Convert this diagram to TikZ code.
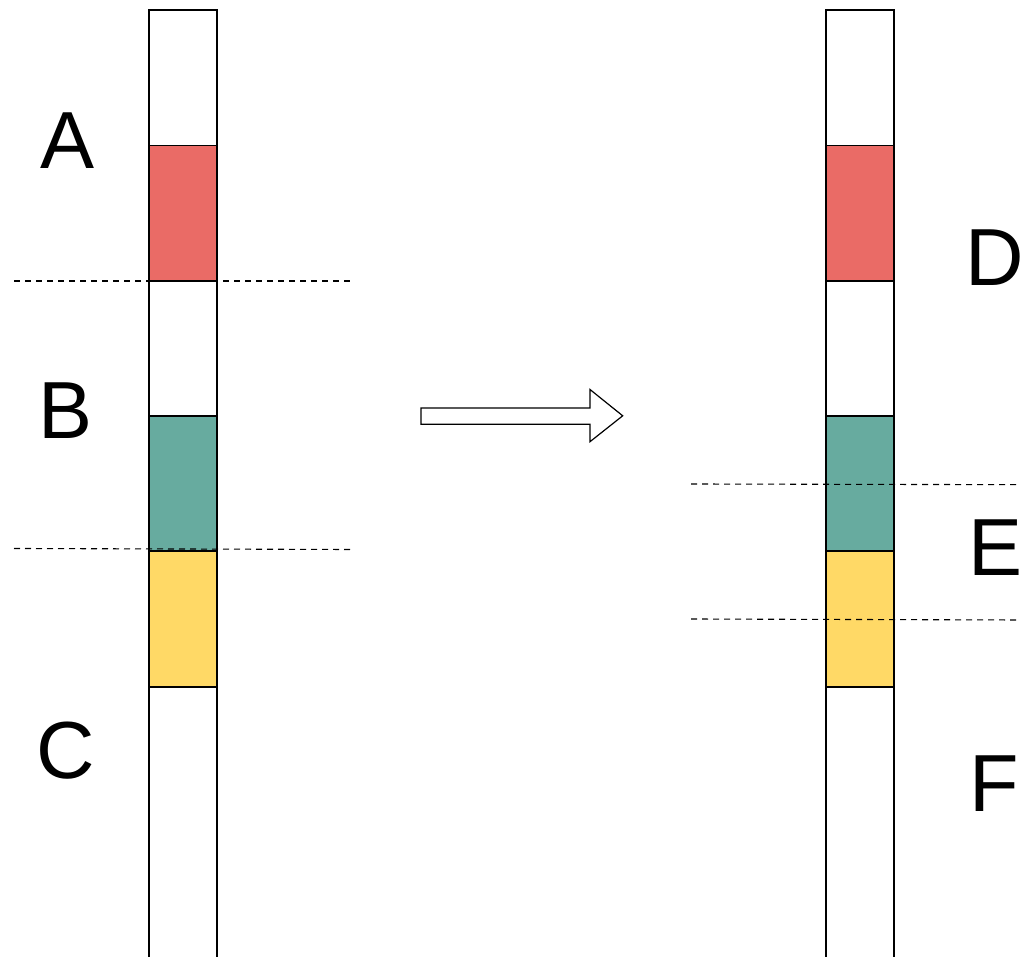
\documentclass[tikz,border=0pt]{standalone}
\usepackage{fontspec}
\setmainfont{Liberation Sans}
\definecolor{cred}{HTML}{EA6B66}
\definecolor{cgreen}{HTML}{67AB9F}
\definecolor{cyellow}{HTML}{FFD966}
\begin{document}
\begin{tikzpicture}[x=1pt,y=-1pt,
  seg/.style={draw=black,line width=1.2pt},
  cut/.style={draw=black,line width=1.1pt,dash pattern=on 6pt off 5pt},
  lbl/.style={inner sep=0pt,anchor=base west,font=\fontsize{81}{81}\selectfont},
  blockarrow/.style={draw=black,fill=white,line width=1.2pt,line join=miter}]
\useasboundingbox (0,0) rectangle (1021,957);
% left column
\foreach \xl/\xr in {149/217,826/894}{
  \path[seg,fill=white]   (\xl,10)    rectangle (\xr,145.5);
  \path[seg,fill=cred]    (\xl,145.5) rectangle (\xr,281);
  \path[seg,fill=white]   (\xl,281)   rectangle (\xr,416);
  \path[seg,fill=cgreen]  (\xl,416)   rectangle (\xr,551);
  \path[seg,fill=cyellow] (\xl,551)   rectangle (\xr,687);
  \path[seg,fill=white]   (\xl,687)   rectangle (\xr,960);
}
% cut lines
\draw[cut] (14,281) -- (352,281);
\draw[cut] (14,548.5) -- (352,549.5);
\draw[cut] (691,484) -- (1021,484.7);
\draw[cut] (691,619) -- (1021,620);
% arrow
\draw[blockarrow] (421,408) -- (590,408) -- (590,389.5) -- (622.7,415.8) -- (590,441.7) -- (590,424.3) -- (421,424.3) -- cycle;
% labels
\node[lbl] (A) at (40,169) {A};
\node[lbl] (B) at (38,439) {B};
\node[lbl] (C) at (36,778) {C};
\node[lbl] (D) at (965.6,286) {D};
\node[lbl] (E) at (968.6,576) {E};
\node[lbl] (F) at (969.5,811) {F};
\end{tikzpicture}
\end{document}
